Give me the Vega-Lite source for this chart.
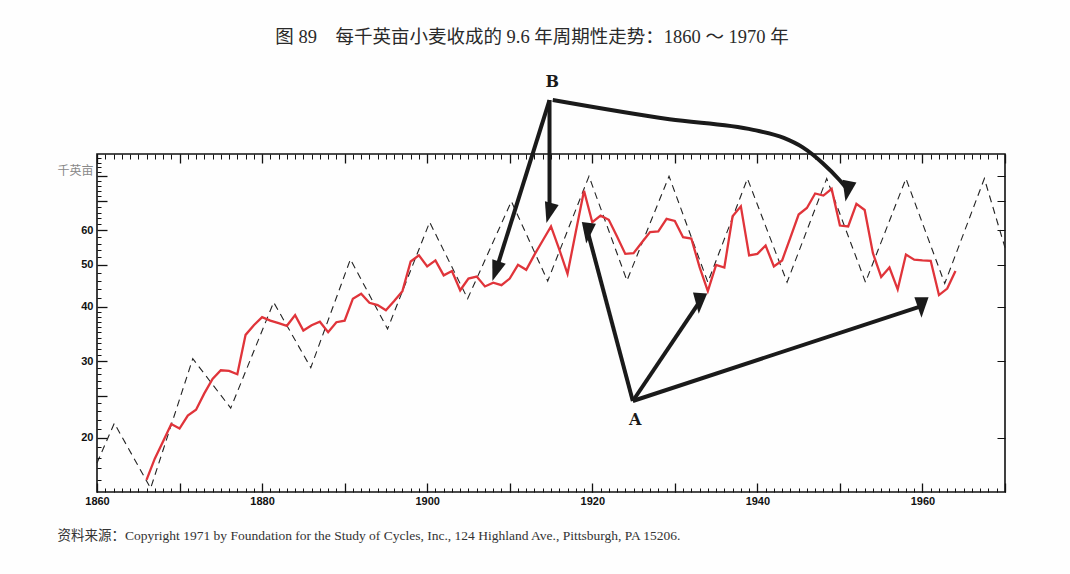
{
  "$schema": "https://vega.github.io/schema/vega-lite/v6.json",
  "width": 908,
  "height": 338,
  "autosize": {"type": "none"},
  "padding": {"left": 97, "top": 154, "right": 65, "bottom": 82},
  "background": "#fefefe",
  "title": {
    "text": "图 89　每千英亩小麦收成的 9.6 年周期性走势：1860 ～ 1970 年",
    "font": "Liberation Serif, Noto Sans CJK SC",
    "fontSize": 18.5,
    "fontWeight": "normal",
    "color": "#2a2a2a",
    "anchor": "middle",
    "dx": -19,
    "offset": 27
  },
  "datasets": {
    "wheat": [
      {"year": 1866, "acres": 16.0}, {"year": 1867, "acres": 17.9}, {"year": 1868, "acres": 19.6},
      {"year": 1869, "acres": 21.5}, {"year": 1870, "acres": 21.0}, {"year": 1871, "acres": 22.5},
      {"year": 1872, "acres": 23.2}, {"year": 1873, "acres": 25.3}, {"year": 1874, "acres": 27.3},
      {"year": 1875, "acres": 28.6}, {"year": 1876, "acres": 28.5}, {"year": 1877, "acres": 28.0},
      {"year": 1878, "acres": 34.5}, {"year": 1879, "acres": 36.3}, {"year": 1880, "acres": 37.9},
      {"year": 1881, "acres": 37.2}, {"year": 1882, "acres": 36.7}, {"year": 1883, "acres": 36.2},
      {"year": 1884, "acres": 38.3}, {"year": 1885, "acres": 35.3}, {"year": 1886, "acres": 36.3},
      {"year": 1887, "acres": 37.0}, {"year": 1888, "acres": 35.0}, {"year": 1889, "acres": 36.9},
      {"year": 1890, "acres": 37.2}, {"year": 1891, "acres": 41.8}, {"year": 1892, "acres": 42.9},
      {"year": 1893, "acres": 40.9}, {"year": 1894, "acres": 40.4}, {"year": 1895, "acres": 39.3},
      {"year": 1896, "acres": 41.3}, {"year": 1897, "acres": 43.5}, {"year": 1898, "acres": 50.9},
      {"year": 1899, "acres": 52.6}, {"year": 1900, "acres": 49.6}, {"year": 1901, "acres": 51.2},
      {"year": 1902, "acres": 47.3}, {"year": 1903, "acres": 48.4}, {"year": 1904, "acres": 43.7},
      {"year": 1905, "acres": 46.5}, {"year": 1906, "acres": 47.0}, {"year": 1907, "acres": 44.6},
      {"year": 1908, "acres": 45.5}, {"year": 1909, "acres": 44.9}, {"year": 1910, "acres": 46.5},
      {"year": 1911, "acres": 50.0}, {"year": 1912, "acres": 48.7}, {"year": 1913, "acres": 52.8},
      {"year": 1914, "acres": 56.9}, {"year": 1915, "acres": 61.3}, {"year": 1916, "acres": 54.3},
      {"year": 1917, "acres": 47.7}, {"year": 1918, "acres": 59.5}, {"year": 1919, "acres": 74.1},
      {"year": 1920, "acres": 62.7}, {"year": 1921, "acres": 64.9}, {"year": 1922, "acres": 63.5},
      {"year": 1923, "acres": 58.1}, {"year": 1924, "acres": 53.0}, {"year": 1925, "acres": 53.2},
      {"year": 1926, "acres": 56.3}, {"year": 1927, "acres": 59.5}, {"year": 1928, "acres": 59.7},
      {"year": 1929, "acres": 63.8}, {"year": 1930, "acres": 63.1}, {"year": 1931, "acres": 57.9},
      {"year": 1932, "acres": 57.5}, {"year": 1933, "acres": 49.4}, {"year": 1934, "acres": 43.5},
      {"year": 1935, "acres": 50.0}, {"year": 1936, "acres": 49.3}, {"year": 1937, "acres": 64.7},
      {"year": 1938, "acres": 68.2}, {"year": 1939, "acres": 52.6}, {"year": 1940, "acres": 53.0},
      {"year": 1941, "acres": 55.4}, {"year": 1942, "acres": 49.6}, {"year": 1943, "acres": 51.2},
      {"year": 1944, "acres": 57.8}, {"year": 1945, "acres": 65.3}, {"year": 1946, "acres": 67.6},
      {"year": 1947, "acres": 73.0}, {"year": 1948, "acres": 72.2}, {"year": 1949, "acres": 74.8},
      {"year": 1950, "acres": 61.6}, {"year": 1951, "acres": 61.3}, {"year": 1952, "acres": 69.1},
      {"year": 1953, "acres": 66.9}, {"year": 1954, "acres": 53.2}, {"year": 1955, "acres": 46.9},
      {"year": 1956, "acres": 49.3}, {"year": 1957, "acres": 43.9}, {"year": 1958, "acres": 52.8},
      {"year": 1959, "acres": 51.4}, {"year": 1960, "acres": 51.2}, {"year": 1961, "acres": 51.1},
      {"year": 1962, "acres": 42.6}, {"year": 1963, "acres": 44.1}, {"year": 1964, "acres": 48.4}
    ],
    "cycle": [
      {"year": 1860.0, "acres": 17.5}, {"year": 1862.1, "acres": 21.6}, {"year": 1866.5, "acres": 15.3},
      {"year": 1871.6, "acres": 30.4}, {"year": 1876.2, "acres": 23.4}, {"year": 1881.4, "acres": 41.0},
      {"year": 1885.9, "acres": 29.0}, {"year": 1890.7, "acres": 51.5}, {"year": 1895.2, "acres": 35.6},
      {"year": 1900.3, "acres": 62.7}, {"year": 1904.9, "acres": 41.8}, {"year": 1910.2, "acres": 70.0},
      {"year": 1914.6, "acres": 45.9}, {"year": 1919.6, "acres": 80.0}, {"year": 1924.2, "acres": 46.0},
      {"year": 1929.3, "acres": 80.0}, {"year": 1934.0, "acres": 45.6}, {"year": 1938.8, "acres": 79.0},
      {"year": 1943.6, "acres": 45.6}, {"year": 1948.4, "acres": 79.0}, {"year": 1953.1, "acres": 45.6},
      {"year": 1958.0, "acres": 79.0}, {"year": 1962.7, "acres": 45.3}, {"year": 1967.5, "acres": 79.0},
      {"year": 1970.0, "acres": 54.8}
    ],
    "arrows": [
      {"id": "B1", "x": 1914.82, "y": 119.8, "x2": 1908.36, "y2": 48.7},
      {"id": "B2", "x": 1914.82, "y": 119.8, "x2": 1914.82, "y2": 66.3},
      {"id": "A1", "x": 1924.91, "y": 24.3, "x2": 1919.45, "y2": 59.6},
      {"id": "A2", "x": 1924.91, "y": 24.3, "x2": 1932.99, "y2": 41.1},
      {"id": "A3", "x": 1924.91, "y": 24.3, "x2": 1959.88, "y2": 40.2}
    ],
    "heads": [
      {"id": "B1", "x": 1908.36, "y": 48.7},
      {"id": "B2", "x": 1914.82, "y": 66.3},
      {"id": "B3", "x": 1950.95, "y": 74.4},
      {"id": "A1", "x": 1919.45, "y": 59.6},
      {"id": "A2", "x": 1932.99, "y": 41.1},
      {"id": "A3", "x": 1959.88, "y": 40.2}
    ],
    "curve": [
      {"x": 1915.21, "y": 119.8}, {"x": 1929.35, "y": 108.2}, {"x": 1939.5, "y": 102.3},
      {"x": 1943.2, "y": 98.0}, {"x": 1945.5, "y": 93.2}, {"x": 1947.92, "y": 85.7},
      {"x": 1949.95, "y": 78.4}, {"x": 1950.95, "y": 74.4}
    ],
    "letters": [
      {"label": "B", "x": 1915.14, "y": 132.0},
      {"label": "A", "x": 1925.2, "y": 22.0}
    ]
  },
  "resolve": {"axis": {"x": "independent", "y": "independent"}},
  "layer": [
    {
      "data": {"name": "cycle"},
      "mark": {"type": "line", "color": "#222222", "strokeWidth": 1.1, "strokeDash": [7, 5]},
      "encoding": {
        "x": {
          "field": "year", "type": "quantitative",
          "scale": {"domain": [1860, 1970], "nice": false, "zero": false},
          "axis": {
            "orient": "bottom", "values": [1860, 1870, 1880, 1890, 1900, 1910, 1920, 1930, 1940, 1950, 1960, 1970],
            "format": "d", "labelExpr": "datum.value % 20 === 0 && datum.value < 1970 ? datum.label : ''",
            "tickSize": -9, "tickColor": "#111111", "tickWidth": 1.3, "domain": false, "grid": false,
            "labelFlush": false, "labelPadding": 12, "labelFont": "Liberation Sans", "labelFontWeight": "bold",
            "labelFontSize": 11, "labelColor": "#111111",
            "title": "资料来源：Copyright 1971 by Foundation for the Study of Cycles, Inc., 124 Highland Ave., Pittsburgh, PA 15206.",
            "titleX": -40, "titleY": 43, "titleAlign": "left", "titleBaseline": "middle",
            "titleFont": "Liberation Serif, Noto Sans CJK SC", "titleFontSize": 13.5, "titleFontWeight": "normal",
            "titleColor": "#333333"
          }
        },
        "y": {
          "field": "acres", "type": "quantitative",
          "scale": {"type": "log", "domain": [15, 90], "nice": false, "zero": false},
          "axis": {
            "orient": "left", "values": [20, 25, 30, 40, 50, 60, 70, 80],
            "labelExpr": "datum.value === 25 || datum.value >= 70 ? '' : datum.label",
            "tickSize": -10, "tickColor": "#111111", "tickWidth": 1.3, "domain": false, "grid": false,
            "labelFlush": false, "labelPadding": 14, "labelFont": "Liberation Sans", "labelFontWeight": "bold",
            "labelFontSize": 11, "labelColor": "#111111",
            "title": "千英亩", "titleAngle": 0, "titleX": -4, "titleY": 16, "titleAlign": "right",
            "titleBaseline": "middle", "titleFont": "Noto Sans CJK SC", "titleFontSize": 12,
            "titleFontWeight": "normal", "titleColor": "#888888"
          }
        }
      }
    },
    {
      "data": {"name": "wheat"},
      "mark": {"type": "line", "color": "#e0343a", "strokeWidth": 2.3},
      "encoding": {
        "x": {
          "field": "year", "type": "quantitative",
          "axis": {
            "orient": "top", "values": [1860, 1870, 1880, 1890, 1900, 1910, 1920, 1930, 1940, 1950, 1960, 1970],
            "labels": false, "tickSize": -9, "tickColor": "#111111", "tickWidth": 1.3, "domain": false,
            "grid": false, "title": null
          }
        },
        "y": {
          "field": "acres", "type": "quantitative",
          "axis": {
            "orient": "right", "values": [20, 30, 40, 50, 60, 70, 80],
            "labels": false, "tickSize": -8, "tickColor": "#111111", "tickWidth": 1, "domain": false,
            "grid": false, "title": null
          }
        }
      }
    },
    {
      "data": {"name": "arrows"},
      "mark": {"type": "rule", "color": "#1a1a1a", "strokeWidth": 4},
      "encoding": {
        "x": {
          "field": "x", "type": "quantitative",
          "axis": {
            "orient": "bottom", "tickCount": 110, "labels": false, "tickSize": -4, "tickColor": "#111111",
            "tickWidth": 1, "domain": false, "grid": false, "title": null
          }
        },
        "y": {
          "field": "y", "type": "quantitative",
          "axis": {
            "orient": "left",
            "values": [16, 17, 18, 19, 21, 22, 23, 24, 26, 27, 28, 29, 31, 32, 33, 34, 35, 36, 37, 38, 39, 42, 44, 46, 48, 52, 54, 56, 58, 62, 64, 66, 68, 72, 74, 76, 78, 82, 84, 86, 88],
            "labels": false, "tickSize": -4, "tickColor": "#111111", "tickWidth": 1, "domain": false,
            "grid": false, "title": null
          }
        },
        "x2": {"field": "x2"},
        "y2": {"field": "y2"}
      }
    },
    {
      "data": {"name": "curve"},
      "mark": {"type": "line", "color": "#1a1a1a", "strokeWidth": 4, "interpolate": "monotone"},
      "encoding": {
        "x": {"field": "x", "type": "quantitative", "axis": null},
        "y": {"field": "y", "type": "quantitative", "axis": null}
      }
    },
    {
      "data": {"name": "heads"},
      "mark": {"type": "point", "shape": "M0,-1L0.6,0.75L-0.6,0.75Z", "filled": true, "color": "#1a1a1a", "opacity": 1, "size": 560},
      "encoding": {
        "x": {
          "field": "x", "type": "quantitative",
          "axis": {
            "orient": "top", "tickCount": 110, "labels": false, "tickSize": -5, "tickColor": "#111111",
            "tickWidth": 1, "domain": false, "grid": false, "title": null
          }
        },
        "y": {"field": "y", "type": "quantitative", "axis": null},
        "angle": {
          "field": "id", "type": "nominal", "legend": null,
          "scale": {"domain": ["B1", "B2", "B3", "A1", "A2", "A3"], "range": [198.6, 180, 137.6, 345.3, 34.2, 71.7]}
        }
      }
    },
    {
      "data": {"name": "letters"},
      "mark": {"type": "text", "font": "DejaVu Serif", "fontWeight": "bold", "fontSize": 16, "color": "#1a1a1a", "baseline": "middle", "align": "center"},
      "encoding": {
        "x": {"field": "x", "type": "quantitative", "axis": null},
        "y": {"field": "y", "type": "quantitative", "axis": null},
        "text": {"field": "label"}
      }
    }
  ],
  "config": {
    "view": {"stroke": "#111111", "strokeWidth": 1.6}
  }
}
